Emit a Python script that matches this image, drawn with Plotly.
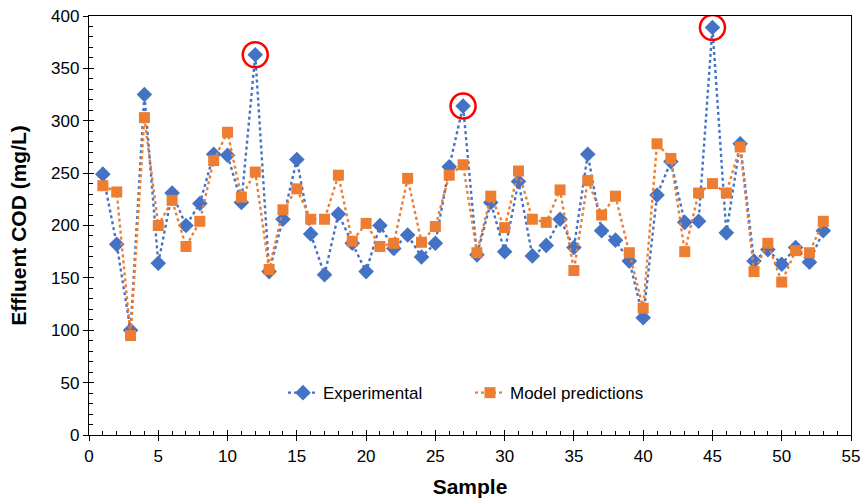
import plotly.graph_objects as go

# Effluent COD per sample: measured vs. model output
samples = list(range(1, 54))
experimental = [249, 182, 100, 325, 164, 231, 200, 221, 268, 267,
                 222, 363, 156, 206, 263, 192, 153, 211, 183, 156,
                 200, 178, 191, 170, 183, 256, 314, 172, 222, 175,
                 242, 171, 181, 206, 179, 268, 195, 186, 166, 112,
                 229, 261, 203, 204, 389, 193, 278, 166, 177, 163,
                 179, 165, 195]
predicted = [238, 232, 95, 303, 200, 224, 180, 204, 262, 289,
             227, 251, 158, 215, 235, 206, 206, 248, 185, 202,
             180, 183, 245, 184, 199, 248, 258, 174, 228, 198,
             252, 206, 203, 234, 157, 243, 210, 228, 174, 121,
             278, 264, 175, 231, 240, 231, 275, 156, 183, 146,
             176, 174, 204]
# Samples with outlying measured values
highlighted = [12, 27, 45]

X_RANGE = [0, 55]
Y_RANGE = [0, 400]

BLUE = "#4472C4"
ORANGE = "#ED7D31"
FONT = "Liberation Sans, Arial, sans-serif"

fig = go.Figure()
fig.add_trace(go.Scatter(
    x=samples, y=experimental, name="Experimental",
    mode="lines+markers",
    line=dict(color=BLUE, width=2.4, dash="dot"),
    marker=dict(symbol="diamond", size=12, color=BLUE),
))
fig.add_trace(go.Scatter(
    x=samples, y=predicted, name="Model predictions",
    mode="lines+markers",
    line=dict(color=ORANGE, width=2.4, dash="dot"),
    marker=dict(symbol="square", size=11, color=ORANGE),
))
# Red rings on the outliers, drawn on the overlay axes (which carry the inner ticks)
fig.add_trace(go.Scatter(
    x=highlighted, y=[experimental[s - 1] for s in highlighted],
    xaxis="x2", yaxis="y2",
    mode="markers", showlegend=False, hoverinfo="skip",
    marker=dict(symbol="circle-open", size=25, color="#FF0000",
                line=dict(width=2.5, color="#FF0000")),
))

tickfont = dict(family=FONT, size=17, color="black")
titlefont = dict(family=FONT, size=21, color="black")

# Primary axes: frame, labels and the outer half of the major ticks
outer = dict(
    showgrid=False, zeroline=False, automargin=False,
    showline=True, linecolor="black", linewidth=1.3, mirror=True,
    ticks="outside", ticklen=5, tickwidth=1.3, tickcolor="black",
    tickfont=tickfont,
)
# Overlay axes: inner half of the major ticks plus the inner minor ticks
inner = dict(
    showgrid=False, zeroline=False, automargin=False,
    showline=False, showticklabels=False,
    ticks="inside", ticklen=5, tickwidth=1.3, tickcolor="black",
)

fig.update_layout(
    xaxis=dict(range=X_RANGE, dtick=5, tick0=0,
               title=dict(text="<b>Sample</b>", font=titlefont, standoff=14),
               **outer),
    yaxis=dict(range=Y_RANGE, dtick=50, tick0=0,
               title=dict(text="<b>Effluent COD (mg/L)</b>", font=titlefont, standoff=18),
               **outer),
    xaxis2=dict(range=X_RANGE, dtick=5, tick0=0, overlaying="x", anchor="y2", side="bottom",
                minor=dict(dtick=1, ticks="inside", ticklen=4, tickcolor="black", tickwidth=1.1),
                **inner),
    yaxis2=dict(range=Y_RANGE, dtick=50, tick0=0, overlaying="y", anchor="x2", side="left",
                minor=dict(dtick=10, ticks="inside", ticklen=4, tickcolor="black", tickwidth=1.1),
                **inner),
    width=861, height=502,
    margin=dict(l=89, r=10, t=16, b=67),
    plot_bgcolor="white", paper_bgcolor="white",
    font=dict(family=FONT, color="black"),
    legend=dict(
        orientation="h", x=0.5, xanchor="center", y=0.10, yanchor="middle",
        font=dict(family=FONT, size=17, color="black"),
        bgcolor="rgba(0,0,0,0)", entrywidth=142, entrywidthmode="pixels",
    ),
)

fig.write_html("out.html")
